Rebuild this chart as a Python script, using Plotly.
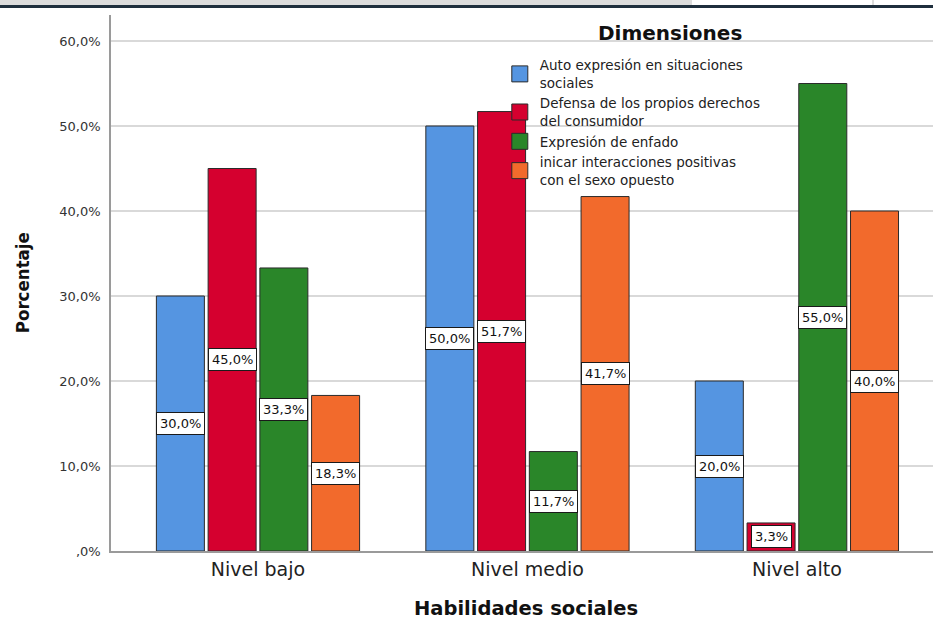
import plotly.graph_objects as go

# Categories on the x axis
niveles = ["Nivel bajo", "Nivel medio", "Nivel alto"]

# Series (percentages per level)
dimensiones = [
    "Auto expresión en situaciones<br>sociales",
    "Defensa de los propios derechos<br>del consumidor",
    "Expresión de enfado",
    "inicar interacciones positivas<br>con el sexo opuesto",
]
auto_expresion = [30.0, 50.0, 20.0]
defensa_derechos = [45.0, 51.7, 3.3]
expresion_enfado = [33.3, 11.7, 55.0]
iniciar_interacciones = [18.3, 41.7, 40.0]

# Y axis ticks
y_tickvals = [0, 10, 20, 30, 40, 50, 60]
y_ticktext = [",0%", "10,0%", "20,0%", "30,0%", "40,0%", "50,0%", "60,0%"]

colores = ["#5595e1", "#d5002f", "#2a8629", "#f26a2c"]
series = [auto_expresion, defensa_derechos, expresion_enfado, iniciar_interacciones]

BARGAP = 0.232
BARGROUPGAP = 0.072
EDGE = "#2b2b2b"
LABEL_FONT = dict(family="DejaVu Sans", size=13, color="#111111")


def pct(v):
    return f"{v:.1f}".replace(".", ",") + "%"


fig = go.Figure()
for nombre, valores, color in zip(dimensiones, series, colores):
    fig.add_trace(go.Bar(
        x=niveles, y=valores, name=nombre, showlegend=False,
        marker=dict(color=color, line=dict(color=EDGE, width=1)),
        hoverinfo="skip",
    ))

# Legend keys drawn as larger outlined squares
for nombre, color in zip(dimensiones, colores):
    fig.add_trace(go.Scatter(
        x=[None], y=[None], mode="markers", name=nombre,
        marker=dict(symbol="square", size=16, color=color, line=dict(color=EDGE, width=1)),
        hoverinfo="skip",
    ))

# Boxed value labels centred on each bar
n = len(series)
group_w = 1 - BARGAP
annotations = []
for i, valores in enumerate(series):
    offset = (i - (n - 1) / 2) * group_w / n
    for j, v in enumerate(valores):
        annotations.append(dict(
            x=j + offset, y=v / 2, xref="x", yref="y",
            text=pct(v), showarrow=False, font=LABEL_FONT,
            bgcolor="white", bordercolor="#1a1a1a", borderwidth=1, borderpad=3,
        ))

# Legend heading
annotations.append(dict(
    x=0.680, y=0.9664, xref="paper", yref="paper", text="<b>Dimensiones</b>",
    showarrow=False, font=dict(family="DejaVu Sans", size=20, color="#111111"),
    xanchor="center", yanchor="middle",
))

# Axis titles
annotations.append(dict(
    x=0.505, y=-0.108, xref="paper", yref="paper", text="<b>Habilidades sociales</b>",
    showarrow=False, font=dict(family="DejaVu Sans", size=19.5, color="#111111"),
    xanchor="center", yanchor="middle",
))
annotations.append(dict(
    x=-0.108, y=0.5, xref="paper", yref="paper", text="<b>Porcentaje</b>",
    showarrow=False, textangle=-90,
    font=dict(family="DejaVu Sans Condensed, DejaVu Sans", size=18.5, color="#111111"),
    xanchor="center", yanchor="middle",
))

# Window strip along the top edge
shapes = [
    dict(type="rect", xref="paper", yref="paper", x0=-0.14, x1=1.01, y0=1.0187, y1=1.03,
         fillcolor="#dcdcdc", line=dict(width=0), layer="above"),
    dict(type="rect", xref="paper", yref="paper", x0=0.7068, x1=0.9258, y0=1.0187, y1=1.03,
         fillcolor="white", line=dict(width=0), layer="above"),
    dict(type="rect", xref="paper", yref="paper", x0=0.9282, x1=1.01, y0=1.0187, y1=1.03,
         fillcolor="white", line=dict(width=0), layer="above"),
    dict(type="rect", xref="paper", yref="paper", x0=-0.14, x1=1.01, y0=1.0131, y1=1.0187,
         fillcolor="#1f2f3d", line=dict(width=0), layer="above"),
]

fig.update_layout(
    width=933, height=619,
    margin=dict(l=111, r=0, t=15, b=68),
    paper_bgcolor="white", plot_bgcolor="white",
    barmode="group", bargap=BARGAP, bargroupgap=BARGROUPGAP,
    showlegend=True,
    legend=dict(
        x=0.473, y=0.935, xanchor="left", yanchor="top",
        bgcolor="rgba(0,0,0,0)",
        font=dict(family="DejaVu Sans", size=13.5, color="#222222"),
        traceorder="normal", valign="middle", tracegroupgap=0,
    ),
    xaxis=dict(
        range=[-0.5455, 2.505], showgrid=False, zeroline=False,
        showline=True, linecolor="#9a9a9a", linewidth=2,
        ticks="", tickfont=dict(family="DejaVu Sans", size=19, color="#222222"),
    ),
    yaxis=dict(
        range=[0, 63.06], tickvals=y_tickvals, ticktext=y_ticktext,
        showgrid=True, gridcolor="#d9d9d9", gridwidth=1.5,
        zeroline=False, showline=True, linecolor="#9a9a9a", linewidth=1.5,
        ticks="", tickfont=dict(family="DejaVu Sans", size=13, color="#333333"),
        ticklabelstandoff=6,
    ),
    annotations=annotations,
    shapes=shapes,
)

fig.write_html("out.html")
